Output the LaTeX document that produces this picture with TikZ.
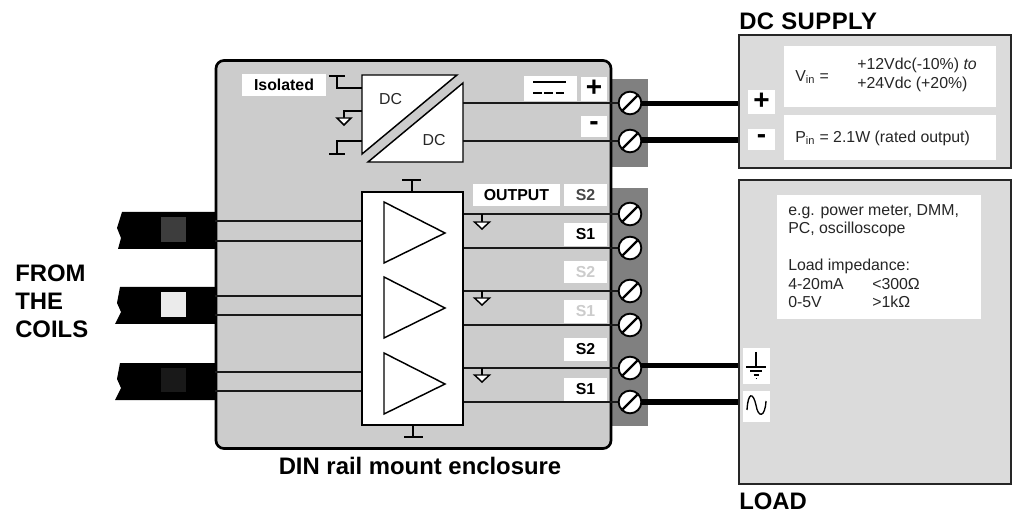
\documentclass[tikz,border=0pt]{standalone}
\usepackage{fontspec}
\setmainfont{Liberation Sans}
\begin{document}
\begin{tikzpicture}[x=0.75pt,y=-0.75pt,
 lbl/.style={fill=white,inner sep=0pt,anchor=center,font=\bfseries\fontsize{11.9}{13}\selectfont},
 signlbl/.style={lbl,font=\bfseries\fontsize{21}{21}\selectfont},
 wire/.style={line width=1.5pt*0.75,draw=black!90},
 thick wire/.style={line width=4.2pt,draw=black},
 gndsym/.style={line width=1.1pt,fill=white,line join=miter},
 tbar/.style={line width=1.1pt},
 screw/.style={circle,draw=black,fill=white,line width=1.4pt,minimum size=17pt,inner sep=0pt,
   path picture={\draw[line width=1.6pt] ([shift={(3pt,3pt)}]path picture bounding box.south west) -- ([shift={(-3pt,-3pt)}]path picture bounding box.north east);}},
 tri/.style={draw=black,fill=white,line width=1.1pt,line join=miter},
 cable/.style={fill=black},
 txt/.style={inner sep=0pt,font=\fontsize{11.9}{14.2}\selectfont,text=black!85},
 head/.style={inner sep=0pt,font=\bfseries\fontsize{17.9}{21}\selectfont},
 blockbox/.style={draw=black,line width=1.5pt,fill=white},
 ext/.style={draw=black!85,line width=1.4pt,fill=black!14},
 sized/.style 2 args={minimum width=#1*0.75pt,minimum height=#2*0.75pt}]
\useasboundingbox (0,0) rectangle (1014,513);
% enclosure and terminal strips
\fill[black!50] (612,79) rectangle (648,167);
\fill[black!50] (612,188) rectangle (648,426);
\node[draw=black,line width=2pt,fill=black!20,rounded corners=6pt,minimum width=395*0.75pt,minimum height=388*0.75pt,inner sep=0pt] (encl) at (413.5,254.5) {};
% cables
\path[cable] (122,212) -- (216,212) -- (216,249) -- (118,249) -- (121,238) -- (117,228) -- cycle;
\path[cable] (120,287) -- (216,287) -- (216,324) -- (115,324) -- (121,312) -- (117,303) -- cycle;
\path[cable] (120,363) -- (216,363) -- (216,400) -- (115,400) -- (121,388) -- (117,379) -- cycle;
\fill[black!76] (161,217) rectangle (186,242);
\fill[black!8] (161,292) rectangle (186,317);
\fill[black!90] (161,368) rectangle (186,392);
% external boxes
\node[ext,sized={272}{132.5},inner sep=0pt] (supply) at (875,101.5) {};
\node[ext,sized={272}{304},inner sep=0pt] (load) at (875,332) {};
\node[fill=white,sized={212}{61},inner sep=0pt] (vbox) at (890,76.5) {};
\node[fill=white,sized={212}{45},inner sep=0pt] (pbox) at (890,137.5) {};
\node[fill=white,sized={204}{124},inner sep=0pt] (lbox) at (879,257) {};
% blocks
\node[blockbox,sized={101}{233},inner sep=0pt] (amp) at (412.5,308.5) {};
\coordinate (cvw) at (362,118); \coordinate (cve) at (463,118);
\coordinate (gx) at (482,0);
% screws (positions)
\coordinate (p1) at (630,103); \coordinate (p2) at (630,141);
\coordinate (p3) at (630,214); \coordinate (p4) at (630,248);
\coordinate (p5) at (630,291); \coordinate (p6) at (630,325);
\coordinate (p7) at (630,368); \coordinate (p8) at (630,402);
% wires: input
\foreach \y in {221,241,296,315,372,391}
  \draw[wire] (encl.west |- 0,\y) -- (amp.west |- 0,\y);
% wires: output
\foreach \p in {p3,p4,p5,p6,p7,p8} \draw[wire] (amp.east |- \p) -- (\p);
\draw[wire] (cve |- p1) -- (p1);
\draw[wire] (cve |- p2) -- (p2);
% thick
\coordinate (t1) at (630,103.5); \coordinate (t2) at (630,140); \coordinate (t7) at (630,365.5); \coordinate (t8) at (630,402);
\draw[thick wire] (t1) -- (t1 -| supply.west);
\draw[thick wire] (t2) -- (t2 -| supply.west);
\draw[thick wire] (t7) -- (t7 -| load.west);
\draw[thick wire] (t8) -- (t8 -| load.west);
\foreach \p [count=\i] in {p1,p2,p3,p4,p5,p6,p7,p8} \node[screw] (s\i) at (\p) {};
% DC/DC converter
\draw[tbar] (329,76) -- (345,76) (337,76) -- (337,88) -- (362,88);
\draw[tbar] (362,111) -- (344,111) -- (344,118);
\draw[gndsym] (337,118) -- (351,118) -- (344,125) -- cycle;
\draw[tbar] (362,141) -- (337,141) -- (337,154);
\draw[tbar] (329,154) -- (345,154);
\draw[tri] (362,75) -- (457,75) -- (362,154) -- cycle;
\draw[tri] (463,83) -- (463,162) -- (368,162) -- cycle;
\node[txt] (dc1) at (390.5,99) {DC};
\node[txt] (dc2) at (434,140) {DC};
% amp
\draw[tbar] (412,192) -- (412,180) (402,180) -- (421,180);
\draw[tbar] (413,425) -- (413,437) (404,437) -- (423,437);
\draw[tri] (384,202) -- (445,233) -- (384,263) -- cycle;
\draw[tri] (384,277) -- (445,308) -- (384,338) -- cycle;
\draw[tri] (384,353) -- (445,384) -- (384,414) -- cycle;
\foreach \y/\p in {222/p3,298/p5,375/p7} {
  \draw[tbar] (gx |- 0,\y) -- (gx |- \p);
  \draw[gndsym] (474.5,\y) -- (489.5,\y) -- (482,\y+7) -- cycle;
}
% labels
\node[lbl,sized={84}{22}] (iso) at (284,85) {Isolated};
\node[fill=white,sized={53}{25},inner sep=0pt] (dcsym) at (550.5,88.5) {};
\draw[line width=0.9pt] (533,82) -- (566,82);
\draw[line width=0.9pt,dash pattern=on 6.5pt off 2pt] (533,93) -- (566,93);
\node[signlbl,sized={26}{24}] (plus) at (594,89) {\raisebox{1pt}{+}};
\node[signlbl,sized={26}{21}] (minus) at (594,126.5) {\raisebox{-2pt}{-}};
\node[lbl,sized={87}{22}] (out) at (516.5,195) {OUTPUT};
\node[lbl,sized={43}{22},text=black!72] (a) at (585.5,195) {S2};
\node[lbl,sized={43}{23}] (b) at (585.5,234.5) {S1};
\node[lbl,sized={43}{22},text=black!20] (c) at (585.5,272) {S2};
\node[lbl,sized={43}{23},text=black!20] (d) at (585.5,311.5) {S1};
\node[lbl,sized={43}{23}] (e) at (585.5,349.5) {S2};
\node[lbl,sized={43}{23}] (f) at (585.5,389.5) {S1};
% supply
\node[signlbl,sized={27}{24}] (splus) at (761.5,102) {\raisebox{1pt}{+}};
\node[signlbl,sized={27}{21}] (sminus) at (761.5,139.5) {\raisebox{-2pt}{-}};
\node[txt,anchor=west] (vin) at (795,77) {V\textsubscript{in} =};
\node[txt,anchor=north west,align=left] (vtxt) at (857,57.5) {+12Vdc(-10\%) \textit{to}\\+24Vdc (+20\%)};
\node[txt,anchor=west] (pin) at (795,138) {P\textsubscript{in} = 2.1W (rated output)};
\node[txt,anchor=north west,align=left,font=\fontsize{11.9}{13.9}\selectfont] (ltxt) at (788,204) {e.g. power meter, DMM,\\PC, oscilloscope\\[13.9pt]Load impedance:\\\makebox[63pt][l]{4-20mA}<300Ω\\\makebox[63pt][l]{0-5V}>1kΩ};
% load symbols
\node[fill=white,sized={27}{36},inner sep=0pt] (gsym) at (756.5,366) {};
\node[fill=white,sized={27}{31},inner sep=0pt] (ssym) at (756.5,406.5) {};
\draw[line width=0.9pt] (756,352) -- (756,367) (746,367) -- (766,367) (750,371) -- (762,371) (753.5,375) -- (758.5,375) (755.5,378.5) -- (756.5,378.5);
\draw[line width=1pt] (747,410) .. controls (748,392) and (753,392) .. (756,405) .. controls (758,418) and (765,418) .. (766,401);
% headings
\node[head,anchor=west] (h1) at (739,21) {\addfontfeature{LetterSpace=2}DC SUPPLY};
\node[head,anchor=west] (h2) at (739,501.5) {LOAD};
\node[head] (h3) at (420,466) {DIN rail mount enclosure};
\node[head,anchor=west,align=left] (h4) at (15,301) {FROM\\THE\\COILS};
\end{tikzpicture}
\end{document}
